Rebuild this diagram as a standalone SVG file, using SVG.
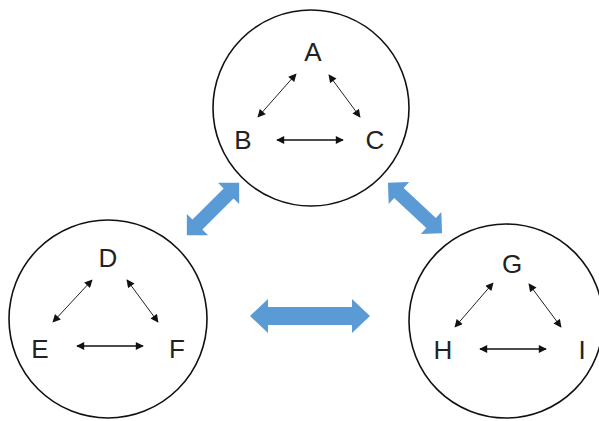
<svg xmlns="http://www.w3.org/2000/svg" width="599" height="421" viewBox="0 0 599 421">
<style>
.c{fill:#fff;stroke:#111;stroke-width:1.6}
.t{font-family:"Liberation Sans",Arial,sans-serif;font-size:26px;fill:#222;text-anchor:middle}
.l{stroke:#222;stroke-width:1;marker-start:url(#ah);marker-end:url(#ah)}
.h{stroke:#111;stroke-width:1.5;marker-start:url(#ah);marker-end:url(#ah)}
.b{fill:#5B9BD5}
</style>
<defs>
<marker id="ah" viewBox="0 0 10 10" refX="9" refY="5" markerWidth="9" markerHeight="8" markerUnits="userSpaceOnUse" orient="auto-start-reverse">
<path d="M0,0 L10,5 L0,10 Z" fill="#111"/>
</marker>
<path id="bh" d="M-60,0 L-42,-17 L-42,-9 L42,-9 L42,-17 L60,0 L42,17 L42,9 L-42,9 L-42,17 Z"/>
<path id="bd" d="M-37,0 L-22,-15 L-22,-7 L22,-7 L22,-15 L37,0 L22,15 L22,7 L-22,7 L-22,15 Z"/>
</defs>
<rect width="599" height="421" fill="#fff"/>
<g id="node-ABC">
<circle class="c" cx="311" cy="108" r="98"/>
<text class="t" x="313" y="61">A</text>
<text class="t" x="243" y="149">B</text>
<text class="t" x="375" y="149">C</text>
<line class="l" x1="296" y1="74" x2="258" y2="117"/>
<line class="l" x1="329" y1="75" x2="360" y2="117"/>
<line class="h" x1="277" y1="140" x2="343" y2="140"/>
</g>
<g id="node-DEF">
<circle class="c" cx="108" cy="319" r="99"/>
<text class="t" x="108" y="267">D</text>
<text class="t" x="40" y="358">E</text>
<text class="t" x="177" y="358">F</text>
<line class="l" x1="92" y1="280" x2="53" y2="322"/>
<line class="l" x1="127" y1="280" x2="158" y2="322"/>
<line class="h" x1="77" y1="346" x2="143" y2="346"/>
</g>
<g id="node-GHI">
<circle class="c" cx="506" cy="321" r="97"/>
<text class="t" x="512" y="273">G</text>
<text class="t" x="443" y="359">H</text>
<text class="t" x="582" y="359">I</text>
<line class="l" x1="493" y1="283" x2="455" y2="327"/>
<line class="l" x1="529" y1="284" x2="561" y2="327"/>
<line class="h" x1="480" y1="349" x2="546" y2="349"/>
</g>
<g id="connectors">
<use href="#bd" class="b" transform="translate(213,209) rotate(-45)"/>
<use href="#bd" class="b" transform="translate(415,208) rotate(43)"/>
<use href="#bh" class="b" transform="translate(310,316)"/>
</g>
</svg>
